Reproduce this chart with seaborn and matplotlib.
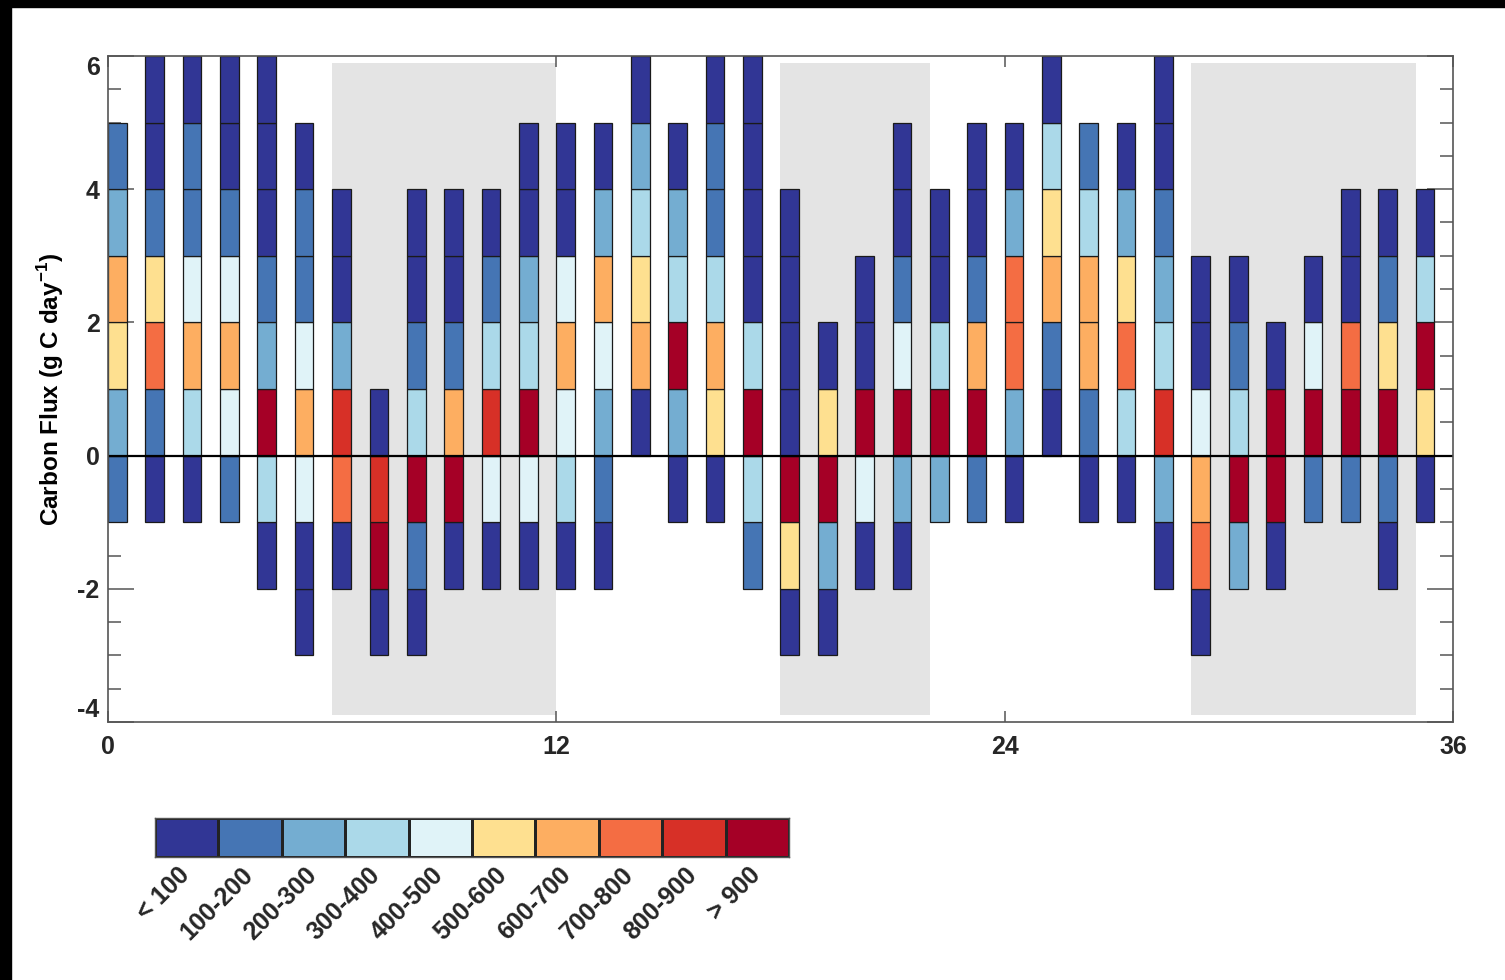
import numpy as np
import pandas as pd
import matplotlib
matplotlib.use("Agg")
import matplotlib.pyplot as plt
import matplotlib.transforms as mtransforms
import seaborn as sns
from matplotlib.colors import ListedColormap
from matplotlib.patches import Rectangle
from matplotlib.ticker import MultipleLocator, NullLocator

# ---------------- data ----------------
class_labels = ["< 100", "100-200", "200-300", "300-400", "400-500",
                "500-600", "600-700", "700-800", "800-900", "> 900"]
class_colors = ["#313695", "#4575b4", "#74add1", "#abd9e9", "#e0f3f8",
                "#fee090", "#fdae61", "#f46d43", "#d73027", "#a50026"]

hours = list(range(36))
# lowest flux level of each column
bar_bottom = [-1, -1, -1, -1, -2, -3, -2, -3, -3, -2, -2, -2,
              -2, -2, 0, -1, -1, -2, -3, -3, -2, -2, -1, -1,
              -1, 0, -1, -1, -2, -3, -2, -2, -1, -1, -2, -1]
# class index of each unit cell, from bottom to top
bar_classes = [
    [1, 2, 5, 6, 2, 1],
    [0, 1, 7, 5, 1, 0, 0],
    [0, 3, 6, 4, 1, 1, 0],
    [1, 4, 6, 4, 1, 0, 0],
    [0, 3, 9, 2, 1, 0, 0, 0],
    [0, 0, 4, 6, 4, 1, 1, 0],
    [0, 7, 8, 2, 0, 0],
    [0, 9, 8, 0],
    [0, 1, 9, 3, 1, 0, 0],
    [0, 9, 6, 1, 0, 0],
    [0, 4, 8, 3, 1, 0],
    [0, 4, 9, 3, 2, 0, 0],
    [0, 3, 4, 6, 4, 0, 0],
    [0, 1, 2, 4, 6, 2, 0],
    [0, 6, 5, 3, 2, 0],
    [0, 2, 9, 3, 2, 0],
    [0, 5, 6, 3, 1, 1, 0],
    [1, 3, 9, 3, 0, 0, 0, 0],
    [0, 5, 9, 0, 0, 0, 0],
    [0, 2, 9, 5, 0],
    [0, 4, 9, 0, 0],
    [0, 2, 9, 4, 1, 0, 0],
    [2, 9, 3, 0, 0],
    [1, 9, 6, 1, 0, 0],
    [0, 2, 7, 7, 2, 0],
    [0, 1, 6, 5, 3, 0],
    [0, 1, 6, 6, 3, 1],
    [0, 3, 7, 5, 2, 0],
    [0, 2, 8, 3, 2, 1, 0, 0],
    [0, 7, 6, 4, 0, 0],
    [2, 9, 3, 1, 0],
    [0, 9, 9, 0],
    [1, 9, 4, 0],
    [1, 9, 7, 0, 0],
    [0, 1, 9, 5, 1, 0],
    [0, 5, 9, 3, 0],
]

shade_start = [6, 18, 29]
shade_end = [12, 22, 35]
shade_low, shade_high = -3.9, 5.9

x_ticks = [0, 12, 24, 36]
y_ticks = [-4, -2, 0, 2, 4, 6]

rows = []
for h, b, cl in zip(hours, bar_bottom, bar_classes):
    for i, c in enumerate(cl):
        rows.append({"hour": h, "level": b + i, "cls": c})
cells = pd.DataFrame(rows)

# ---------------- style ----------------
sns.set_theme(style="ticks")
plt.rcParams["font.family"] = ["Liberation Sans", "DejaVu Sans"]
plt.rcParams["font.weight"] = "bold"
plt.rcParams["mathtext.fontset"] = "custom"
plt.rcParams["mathtext.rm"] = "Liberation Sans:bold"
plt.rcParams["mathtext.bf"] = "Liberation Sans:bold"

W, H = 1505, 980
fig = plt.figure(figsize=(W / 100, H / 100), dpi=100)
fig.patch.set_facecolor("white")

ax = fig.add_axes([108 / W, 1 - 722 / H, (1453 - 108) / W, (722 - 56) / H])
ax.set_facecolor("white")

for s, e in zip(shade_start, shade_end):
    ax.bar(s, shade_high - shade_low, width=e - s, bottom=shade_low,
           align="edge", color="#e4e4e4", linewidth=0, zorder=0)

ax.bar(cells["hour"], 1, width=0.5, bottom=cells["level"], align="edge",
       color=[class_colors[c] for c in cells["cls"]],
       edgecolor="#1a1a1a", linewidth=0.9, zorder=2)

ax.axhline(0, color="black", lw=1.6, zorder=4)

ax.set_xlim(0, 36)
ax.set_ylim(-4, 6)
ax.set_xticks(x_ticks)
ax.set_xticklabels([str(v) for v in x_ticks])
ax.set_yticks(y_ticks)
ax.set_yticklabels([str(v) for v in y_ticks])
ax.yaxis.set_minor_locator(MultipleLocator(0.5))
ax.xaxis.set_minor_locator(NullLocator())

tick_col = "#555555"
ax.tick_params(axis="y", which="major", direction="in", length=19, width=1.1,
               color=tick_col, left=True, right=True, labelsize=18, pad=6)
ax.tick_params(axis="y", which="minor", direction="in", length=9.5, width=1.1,
               color=tick_col, left=True, right=True)
ax.tick_params(axis="x", which="major", direction="in", length=8, width=1.1,
               color=tick_col, top=True, bottom=True, labelsize=18, pad=9)
for sp in ax.spines.values():
    sp.set_visible(True)
    sp.set_color(tick_col)
    sp.set_linewidth(1.2)
    sp.set_zorder(5)

yt = ax.yaxis.get_major_ticks()
yt[0].label1.set_va("bottom")
yt[-1].label1.set_va("top")

ax.set_ylabel(r"Carbon Flux (g C day$^{\mathbf{-1}}$)", fontsize=17.5,
              fontweight="bold", color="black")
ax.yaxis.label.set_va("center")
ax.yaxis.set_label_coords(-0.0424, 0.5)

# ---------------- colour key ----------------
cax = fig.add_axes([155 / W, 1 - 857 / H, (789 - 155) / W, (857 - 818) / H])
sns.heatmap(np.arange(10)[None, :], cmap=ListedColormap(class_colors),
            vmin=-0.5, vmax=9.5, cbar=False, linewidths=0.8, linecolor="#222222",
            xticklabels=class_labels, yticklabels=False, ax=cax)
cax.set_xticklabels(class_labels, rotation=45, ha="right", va="top",
                    rotation_mode="anchor", fontsize=18, fontweight="bold")
cax.tick_params(axis="x", length=0, pad=4)
shift = mtransforms.ScaledTranslation(-0.09, 0, fig.dpi_scale_trans)
for lbl in cax.get_xticklabels():
    lbl.set_transform(lbl.get_transform() + shift)
for sp in cax.spines.values():
    sp.set_visible(True)
    sp.set_color(tick_col)
    sp.set_linewidth(1.0)

# black frame at the top and left edges
fig.add_artist(Rectangle((0, 1 - 7 / H), 1, 7 / H, transform=fig.transFigure,
                         color="black", zorder=10))
fig.add_artist(Rectangle((0, 0), 11 / W, 1, transform=fig.transFigure,
                         color="black", zorder=10))

fig.savefig("out.png", dpi=100)
